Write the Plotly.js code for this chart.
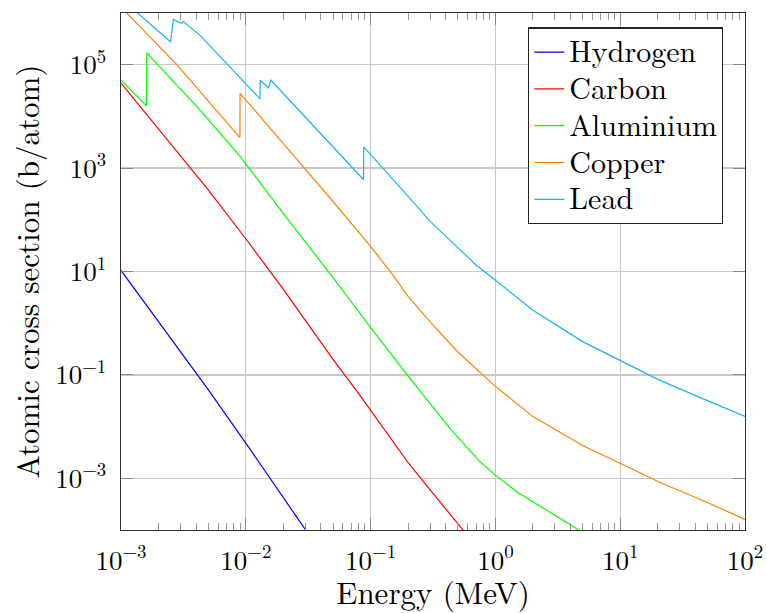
<!DOCTYPE html>
<html>
<head>
<meta charset="utf-8">
<script src="https://cdn.plot.ly/plotly-3.0.1.min.js"></script>
<style>html,body{margin:0;padding:0;background:#fff;}#chart{width:767px;height:613px;}</style>
</head>
<body>
<div id="chart"></div>
<script>
// Energies (MeV) and atomic cross sections (b/atom)
var hydrogenE = [0.001, 0.002, 0.005, 0.01, 0.02, 0.03, 0.05];
var hydrogenS = [10.5, 1.06, 0.052, 0.0048, 0.00042, 0.0001, 0.000017];

var carbonE = [0.001, 0.002, 0.005, 0.01, 0.02, 0.03, 0.05, 0.08, 0.1, 0.15, 0.2, 0.3, 0.5, 0.6, 1];
var carbonS = [44000, 5700, 380, 43, 4.5, 1.13, 0.20, 0.044, 0.021, 0.0054, 0.0020, 0.00060, 0.00013, 0.000077, 0.000018];

var aluminiumE = [0.001, 0.0016, 0.00161, 0.0043, 0.009, 0.0143, 0.02, 0.05, 0.1, 0.2, 0.44, 0.75, 1, 1.5, 2.5, 5, 10];
var aluminiumS = [50000, 16000, 170000, 13200, 1680, 380, 132, 7.6, 0.82, 0.095, 0.0087, 0.0021, 0.00115, 0.00054, 0.00025, 0.000089, 0.000032];

var copperE = [0.001, 0.0028, 0.00897, 0.00899, 0.02, 0.0433, 0.05, 0.1, 0.15, 0.2, 0.3, 0.5, 0.8, 1, 2, 5, 10, 20, 50, 100];
var copperS = [1300000, 100000, 3900, 28000, 2970, 345, 226, 30.6, 8.7, 3.3, 1.06, 0.277, 0.098, 0.060, 0.0156, 0.0043, 0.00195, 0.00087, 0.00034, 0.00016];

var leadE = [0.001, 0.0014, 0.0025, 0.00263, 0.00283, 0.00307, 0.00316, 0.0043, 0.00622, 0.0130, 0.01305, 0.0152, 0.0159, 0.0879, 0.0881, 0.119, 0.2, 0.3, 0.5, 0.7, 1, 2, 5, 10, 20, 50, 100];
var leadS = [1900000, 930000, 275000, 760000, 680000, 630000, 680000, 370000, 143000, 21900, 50000, 35500, 50000, 596, 2570, 1160, 284, 93, 28.5, 13.4, 6.8, 1.78, 0.44, 0.19, 0.082, 0.0318, 0.0158];

var seriesNames = ['Hydrogen', 'Carbon', 'Aluminium', 'Copper', 'Lead'];
var seriesE = [hydrogenE, carbonE, aluminiumE, copperE, leadE];
var seriesS = [hydrogenS, carbonS, aluminiumS, copperS, leadS];
var seriesColors = ['#0000ff', '#ff0000', '#00ff00', '#ff8000', '#18b4ea'];

var xTickVals = [0.001, 0.01, 0.1, 1, 10, 100];
var xTickText = ['10<sup>−3</sup>', '10<sup>−2</sup>', '10<sup>−1</sup>', '10<sup>0</sup>', '10<sup>1</sup>', '10<sup>2</sup>'];
var yTickVals = [0.001, 0.1, 10, 1000, 100000];
var yTickText = ['10<sup>−3</sup>', '10<sup>−1</sup>', '10<sup>1</sup>', '10<sup>3</sup>', '10<sup>5</sup>'];

var FONT = 'Latin Modern Roman, Liberation Serif, serif';

var traces = seriesNames.map(function (n, i) {
  return {
    x: seriesE[i], y: seriesS[i], type: 'scatter', mode: 'lines',
    name: '<span style="font-size:30px">' + n + '</span>',
    line: {color: seriesColors[i], width: 1.2}, cliponaxis: true
  };
});

var layout = {
  width: 767, height: 613,
  margin: {l: 121, r: 22, t: 13, b: 83, pad: 0},
  paper_bgcolor: '#ffffff', plot_bgcolor: '#ffffff',
  font: {family: FONT, color: '#000', size: 27},
  showlegend: true,
  legend: {
    x: 0.965, y: 0.972, xanchor: 'right', yanchor: 'top',
    bgcolor: '#ffffff', bordercolor: '#222', borderwidth: 1.2,
    font: {family: FONT, size: 26, color: '#000'}
  },
  xaxis: {
    type: 'log', range: [-3, 2],
    tickmode: 'array', tickvals: xTickVals, ticktext: xTickText,
    ticks: 'inside', ticklen: 12, tickcolor: '#888', tickwidth: 1.2,
    ticklabelstandoff: 6,
    showgrid: true, gridcolor: '#c8c8c8', gridwidth: 1.3,
    showline: true, linecolor: '#333', linewidth: 1.3, mirror: 'ticks',
    zeroline: false,
    tickfont: {family: FONT, size: 27, color: '#000'},
    minor: {ticks: 'inside', ticklen: 7, tickcolor: '#999', tickwidth: 1, dtick: 'D1', showgrid: false},
    title: {text: 'Energy (MeV)', font: {family: FONT, size: 31, color: '#000'}, standoff: 10}
  },
  yaxis: {
    type: 'log', range: [-4, 6],
    tickmode: 'array', tickvals: yTickVals, ticktext: yTickText,
    ticks: 'inside', ticklen: 12, tickcolor: '#888', tickwidth: 1.2,
    ticklabelstandoff: 8,
    showgrid: true, gridcolor: '#c8c8c8', gridwidth: 1.3,
    showline: true, linecolor: '#333', linewidth: 1.3, mirror: 'ticks',
    zeroline: false,
    tickfont: {family: FONT, size: 27, color: '#000'},
    title: {text: 'Atomic cross section (b/atom)', font: {family: FONT, size: 31, color: '#000'}, standoff: 6}
  }
};

Plotly.newPlot('chart', traces, layout, {displayModeBar: false, staticPlot: true});
</script>
</body>
</html>
